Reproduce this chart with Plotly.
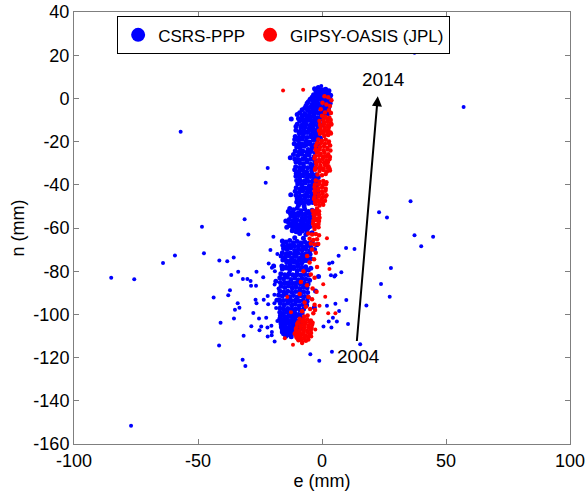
import plotly.graph_objects as go

# ---------------- data (mm) ----------------
# CSRS-PPP main band
csrs_band_e = [
    -3, -1.5, 0, 1.5, 2.8, -2.2, -0.5, 1, 2.3, 3.5, -4, -2.8, -1, 0.5, 2, 3.2, -5.5, -3.5, -2, -0.2, 1.2, 2.6,
    -6.5, -4.5, -3, -1.2, 0.8, 2.1, -8, -5.8, -4, -2.5, -0.8, 1.6, 3, -1.8, 0.4, 2.4, -3.8, 1.9,
    -10, -8, -6.5, -5, -3.5, -2, -0.5, -9, -7.2, -5.8, -4.2, -2.8, -1.2, -10.5, -8.5, -6.8, -5.2, -3.6, -1.8,
    -9.2, -7.5, -6, -4.5, -3, -1.5, -7.9, -4.9, -2.3,
    -11, -9.5, -8, -6.5, -5, -3.5, -2, -10.2, -8.8, -7.2, -5.6, -4, -2.5, -11.5, -9.8, -8.2, -6.8, -5.2, -3.2,
    -10.5, -9, -7.5, -6, -4.5, -2.8, -11, -9.2, -7.8, -6.2, -4.2, -8.6, -5.9, -3.9,
    -10.5, -9, -7.5, -6, -4.5, -3, -1.5, -9.8, -8.2, -6.8, -5.2, -3.8, -2.2, -10.8, -9.2, -7.8, -6.2, -4.8,
    -3.2, -1.8, -10, -8.5, -7, -5.5, -4, -2.5, -9.5, -7.2, -8.9, -6.4, -4.1,
    -13, -11.5, -10, -8.5, -7, -5.5, -4, -2.5, -12.5, -11, -9.5, -8, -6.5, -5, -3.5, -13.5, -12, -10.5, -9,
    -7.5, -6, -4.5, -11.8, -10.2, -8.8, -7.2, -5.8, -9.5, -12.2, -7.9, -10.9,
    -9, -6.5, -4, -11, -7.5,
    -16, -14.5, -13, -11.5, -10, -8.5, -7, -5.5, -4, -15.5, -14, -12.5, -11, -9.5, -8, -6.5, -5, -3, -16.5,
    -15, -13.5, -12, -10.5, -9, -7.5, -6, -4.5, -14.2, -12.8, -11.2, -9.8, -8.2, -13.3, -10.7, -7.2,
    -16, -14.5, -13, -11.5, -10, -8.5, -7, -5.5, -4.5, -17, -15.5, -14, -12.5, -11, -9.5, -8, -6.5, -5,
    -16.5, -15, -13.5, -12, -10.5, -9, -7.5, -6, -17.5, -16, -14.5, -13, -11.5, -10, -8.5, -7, -5.5,
    -16.8, -15.2, -13.8, -12.2, -10.8, -9.2, -7.8, -6.2, -17, -15.5, -14, -12.5, -11, -9.5, -8,
    -13.2, -10.2, -14.8, -11.8, -8.8, -12.8, -9.8, -15.8, -12.1,
    -17, -15.5, -14, -12.5, -11, -9.5, -8, -16.5, -15, -13.5, -12, -10.5, -9, -16, -14.5, -13, -11.5, -10,
    -15.5, -13, -14.2, -11.2,
    -12.4, -12.8, -12.6, -14.6, -1.2, 0.4, -13.6, -14.2, -0.6, -2.1, -19.5, -18.6, -1.4, -2.6, -18.2, -3.1,
]
csrs_band_n = [
    4.5, 5, 4, 4.2, 3.5, 2.5, 2.8, 2, 2.6, 1.5, 0.5, 1, 0.2, 0.6, -0.5, 0, -1.5, -1.2, -2, -1.8, -2.5, -2,
    -3.5, -3.8, -4, -3.3, -4.2, -3.6, -5.2, -5.5, -6, -5.8, -6.4, -5.5, -6.8, 1.2, 3.1, -1.0, -0.2, -4.9,
    -7.5, -8, -7.8, -8.5, -8.2, -9, -8.6, -10.5, -11, -10.2, -11.5, -10.8, -11.2, -13, -13.5, -13.2, -14,
    -13.6, -14.2, -16, -16.5, -15.8, -17, -16.4, -17.2, -9.4, -12.6, -15.1,
    -19, -19.5, -18.8, -19.8, -20.2, -19.4, -20, -22.5, -23, -22.2, -23.6, -22.8, -23.2, -26, -26.4, -25.8,
    -26.8, -26.2, -27, -29.5, -29.8, -30.2, -29.4, -30.5, -30, -33, -33.6, -33.2, -34, -33.5, -21.1, -24.9,
    -31.8,
    -36, -36.5, -35.8, -36.8, -36.2, -37, -36.6, -39.5, -40, -39.2, -40.5, -39.8, -40.2, -43, -43.5, -42.8,
    -43.8, -43.2, -44, -43.6, -46.5, -47, -46.2, -47.4, -46.8, -47.2, -49.5, -49.8, -38.1, -41.7, -45.2,
    -51, -51.5, -50.8, -52, -51.2, -52.4, -51.8, -52.2, -54.5, -55, -54.2, -55.4, -54.8, -55.2, -54.6, -57.5,
    -58, -57.2, -58.4, -57.8, -58.2, -57.6, -60, -60.5, -59.8, -60.6, -60.2, -61.5, -53.1, -56.4, -59.1,
    -62.5, -63, -62.2, -64.5, -64.8,
    -66, -66.5, -65.8, -66.8, -66.2, -67, -66.4, -67.2, -66.6, -69.5, -70, -69.2, -70.4, -69.8, -70.2, -69.6,
    -70.6, -69.9, -73, -73.5, -72.8, -73.8, -73.2, -74, -73.4, -73.7, -74.2, -76, -76.5, -75.8, -76.8, -76.2,
    -68.1, -71.6, -75.1,
    -79, -78.5, -79.5, -78.8, -79.8, -79.2, -80, -79.4, -78.6, -83, -83.5, -82.8, -83.8, -83.2, -84, -83.4,
    -83.7, -84.2, -87, -87.5, -86.8, -87.8, -87.2, -88, -87.4, -87.7, -91, -91.5, -90.8, -91.8, -91.2, -92,
    -91.4, -91.7, -92.2, -95, -95.5, -94.8, -95.8, -95.2, -96, -95.4, -95.7, -99, -99.5, -98.8, -99.8, -99.2,
    -100, -99.4, -81.2, -81.6, -85.3, -85.7, -89.4, -93.2, -93.6, -97.3, -97.6,
    -102, -102.5, -101.8, -102.8, -102.2, -103, -102.4, -104.5, -105, -104.2, -105.4, -104.8, -105.2, -107,
    -107.5, -106.8, -107.6, -107.2, -109, -109.5, -103.6, -106.1,
    -9.5, -27.5, -44.6, -56.8, -13.8, -6.2, -52.4, -59.6, -18.4, -67.8, -77.6, -84.6, -82.4, -89.2, -93.5, -96.8,
]
# CSRS-PPP band, in-between points
csrs_fill_e = [
    -2.5, -0.8, 0.9, 2.5,
    -3.4, -1.7, 0, 1.7, 3,
    -4.8, -3, -1.5, 0.2, 1.5, 3,
    -6, -4, -2.6, -0.8, 0.6, 2.2, 3.3,
    -7, -5.2, -3.5, -2, -0.2, 1.4, 2.7,
    -9, -7, -5, -3.2, -1.5, 0.5, 2.2,
    -9.5, -7.8, -6.2, -4.6, -3, -1.4, 0.2,
    -10, -8.2, -6.5, -4.8, -3.2, -1.6, 0,
    -10.5, -8.8, -7.2, -5.6, -4, -2.4, -0.8,
    -10.8, -9.2, -7.6, -6, -4.4, -2.8, -1.2,
    -11.2, -9.6, -8, -6.4, -4.8, -3.2, -1.6,
    -10.8, -9.2, -7.6, -6, -4.4, -2.8,
    -11, -9.4, -7.8, -6.2, -4.6, -3,
    -10.6, -9, -7.4, -5.8, -4.2, -2.6,
    -10.4, -8.8, -7.2, -5.6, -4, -2.4,
    -10.2, -8.6, -7, -5.4, -3.8, -2.2,
    -10.4, -8.8, -7.2, -5.6, -4, -2.4,
    -10.5, -8.8, -7.2, -5.6, -4, -2.5,
    -10.2, -8.6, -7, -5.4, -3.8,
    -12.8, -11.2, -9.6, -8, -6.4, -4.8, -3.2,
    -13.2, -11.6, -10, -8.4, -6.8, -5.2, -3.6,
    -13, -11.4, -9.8, -8.2, -6.6, -5,
    -12, -10.4, -8, -6,
    -15.8, -14.2, -12.6, -11, -9.4, -7.8, -6.2, -4.6,
    -16, -14.4, -12.8, -11.2, -9.6, -8, -6.4, -4.8,
    -15.8, -14.2, -12.6, -11, -9.4, -7.8, -6.2,
    -16.2, -14.6, -13, -11.4, -9.8, -8.2, -6.6,
    -16.6, -15, -13.4, -11.8, -10.2, -8.6, -7, -5.4,
    -16.8, -15.2, -13.6, -12, -10.4, -8.8, -7.2, -5.6,
    -17, -15.4, -13.8, -12.2, -10.6, -9, -7.4, -5.8,
    -17.2, -15.6, -14, -12.4, -10.8, -9.2, -7.6, -6,
    -17, -15.4, -13.8, -12.2, -10.6, -9, -7.4,
    -16.8, -15.2, -13.6, -12, -10.4, -8.8,
    -16.6, -15, -13.4, -11.8, -10.2, -8.6,
    -16.4, -14.8, -13.2, -11.6, -10, -8.6,
    -16, -14.4, -12.8, -11.2, -9.6,
    -14.6, -12.4,
]
csrs_fill_n = [
    3.6, 3.2, 3.9, 3.0,
    1.7, 1.3, 1.8, 1.2, 0.9,
    -0.4, -0.8, -0.3, -0.9, -0.6, -1.1,
    -2.3, -2.8, -2.5, -2.9, -2.4, -2.8, -2.2,
    -4.6, -4.3, -4.9, -4.5, -4.8, -4.4, -4.2,
    -6.6, -7.0, -6.8, -7.2, -6.9, -7.3, -7.1,
    -9.3, -9.8, -9.5, -9.9, -9.6, -10.0, -9.7,
    -12.0, -12.4, -12.1, -12.5, -12.2, -12.6, -12.3,
    -14.8, -15.2, -14.9, -15.3, -15.0, -15.4, -15.1,
    -17.6, -18.0, -17.7, -18.1, -17.8, -18.2, -17.9,
    -21.0, -21.4, -21.1, -21.5, -21.2, -21.6, -21.3,
    -24.4, -24.8, -24.5, -24.9, -24.6, -25.0,
    -28.0, -28.4, -28.1, -28.5, -28.2, -28.6,
    -31.6, -32.0, -31.7, -32.1, -31.8, -32.2,
    -34.8, -35.2, -34.9, -35.3, -35.0, -35.4,
    -38.0, -38.4, -38.1, -38.5, -38.2, -38.6,
    -41.4, -41.8, -41.5, -41.9, -41.6, -42.0,
    -44.8, -45.2, -44.9, -45.3, -45.0, -45.4,
    -48.0, -48.4, -48.1, -48.5, -48.2,
    -53.0, -53.4, -53.1, -53.5, -53.2, -53.6, -53.3,
    -56.1, -56.5, -56.2, -56.6, -56.3, -56.7, -56.4,
    -58.8, -59.2, -58.9, -59.3, -59.0, -59.4,
    -61.3, -61.7, -61.4, -61.8,
    -68.0, -68.4, -68.1, -68.5, -68.2, -68.6, -68.3, -68.7,
    -71.5, -71.9, -71.6, -72.0, -71.7, -72.1, -71.8, -72.2,
    -74.8, -75.2, -74.9, -75.3, -75.0, -75.4, -75.1,
    -77.6, -78.0, -77.7, -78.1, -77.8, -78.2, -77.9,
    -81.2, -81.6, -81.3, -81.7, -81.4, -81.8, -81.5, -81.9,
    -85.2, -85.6, -85.3, -85.7, -85.4, -85.8, -85.5, -85.9,
    -89.2, -89.6, -89.3, -89.7, -89.4, -89.8, -89.5, -89.9,
    -93.2, -93.6, -93.3, -93.7, -93.4, -93.8, -93.5, -93.9,
    -97.2, -97.6, -97.3, -97.7, -97.4, -97.8, -97.5,
    -100.6, -101.0, -100.7, -101.1, -100.8, -101.2,
    -103.4, -103.8, -103.5, -103.9, -103.6, -104.0,
    -105.8, -106.2, -105.9, -106.3, -106.0, -106.4,
    -108.2, -108.6, -108.3, -108.7, -108.4,
    -110.1, -110.4,
]

# CSRS-PPP scattered points
csrs_out_e = [
    -85, -75.7, -64.1, -59.3, -57, -47.6, -48.4, -41.4, -38.2, -35.6, -31.2, -29.7, -21.9, -22.7, -19.6,
    -20.8, -21.5, -20.2, -33.8, -26.4, -36.6, -23.7, -31.9, -30.1, -28.8, -19.1, -28.6, -26.6, -37.1, -37.8,
    -43.7, -26.8, -23.5, -26.4, -34, -33.3, -35.1, -21.9, -19.2, -21.7, -19.2, -27.7, -25.4, -22.5, -35.5,
    -40.9, -28.5, -25.2, -22, -20.4, -24.5, -20.2, -21.9, -20.3, -31.6, -19.1, -41.5, -32, -30.9, -4.7, -1.1,
    4, 15.4, -77, -18, -19, -18.5, -18, -17.5,
    37.3, 57.1, 35.7, 23, 26.2, 37.3, 44.8, 40, 9.7, 13.1, 6.7, 4.2, 2.9, 27.8, 7.8, 3.6, 5.4, 5, 23.8, 27.3,
    9.8, 5.4, 6.9, 2, 17.9, 4.4, 2.7, 6, 10.5, 0.6, 3.8, -0.3,
]
csrs_out_n = [
    -83, -83.7, -76.2, -72.7, -15.4, -71.7, -59.4, -75, -75.4, -73.6, -56, -63, -32.2, -39.1, -64,
    -70.2, -76.4, -78.4, -80.2, -80.2, -81.8, -82.8, -83.6, -83.6, -84.5, -86.2, -86.7, -86.7, -88.8, -91.1,
    -92.2, -93.2, -93.2, -94.8, -94.8, -96.9, -97.8, -91.5, -90.9, -95.3, -94.8, -99.3, -101.9, -101.6, -101.9,
    -103.9, -105.5, -107.3, -106.1, -105.3, -105.6, -108.1, -110.2, -109.6, -109.9, -112.5, -114.4, -121,
    -123.9, -118.4, -121.5, -117.3, -113.8, -151.5, -72, -80, -97, -103, -88,
    21.1, -4, -47.6, -52.7, -55.1, -63.4, -64, -68.5, -69.3, -69.7, -72.8, -76, -76.4, -78.5, -80.5, -81.9,
    -81.9, -82.5, -85.9, -91.8, -93.3, -95.1, -98.4, -96, -95.9, -101.5, -103.3, -103.3, -104.4, -105.6,
    -106.1, 5.7,
]

# GIPSY-OASIS (JPL) band
gipsy_band_e = [
    1, 2.5, 3.8, 0.2, 1.8, 3.2, -0.5, 2.8, 1.2, 3.6,
    0, 1.5, 3, -1, 0.8, 2.2, 3.6, -0.5, 1.2, 2.8, -1.2, 0.4, 2, 3.4, 0.9, 2.5,
    -1.5, 0, 1.5, 2.8, -2.5, -0.8, 0.8, 2.2, 3.3, -2, -0.5, 1, 2.5, -3, -1.2, 0.3, 1.8, 3, -2.2, -0.6, 1.2,
    2.6, -2.8, -1, 0.6, 2, 3.2, -1.8, 0, 1.5, -1.6, 0.9, 2.1, -0.2,
    -2.5, -1, 0.5, 1.8, -3, -1.5, 0, 1.5, -2.8, -1.2, 0.3, 1.8, -3.2, -1.8, -0.3, 1.2, -2.5, -1, 0.5, -2,
    -3.8, -2.5, -1.2, -3.2, -2, -1, -3.6, -2.4, -1.4, -3,
    -5.5, -4, -2.5, -1.2, -5, -3.5, -2, -4.5, -3, -1.5,
    -4, -2.5, -6, -3.2, -5, -2, -7.5, -4.5, -3, -8.5, -6, -3.8, -2.2, -9, -5.5, -4, -7, -3, -6.5, -4.8, -8,
    -3.5, -5.8, -2.8, -7.2,
    -9, -7.5, -6, -4.5, -10, -8.5, -7, -5.5, -4, -10.5, -9, -7.5, -6, -4.5, -11, -9.5, -8, -6.5, -5, -10,
    -8.5, -7, -5.5, -8, -6.8, -9.3,
]
gipsy_band_n = [
    1, 0.5, -0.8, -2, -2.8, -3.5, -5, -5.5, -6.5, -6.8,
    -8, -8.6, -9, -10.5, -11, -10.8, -11.5, -13, -13.6, -13.2, -15, -15.5, -15.2, -15.8, -17.4, -17,
    -19, -19.6, -19.2, -20, -22, -22.5, -22.2, -22.8, -21.8, -25, -25.6, -25.2, -25.8, -27.8, -28.4, -28,
    -28.6, -28.2, -30.6, -31.2, -30.8, -31.4, -33, -33.6, -33.2, -33.8, -33.4, -35.2, -35.6, -35, -24, -27,
    -29.8, -32.4,
    -38, -38.6, -38.2, -38.8, -41, -41.6, -41.2, -41.8, -44, -44.6, -44.2, -44.8, -46.6, -47.2, -46.8, -47.4,
    -49, -49.6, -49.2, -51,
    -52, -52.6, -52.2, -55, -55.6, -55.2, -58, -58.6, -58.2, -60.5,
    -62.5, -63, -62.8, -63.4, -65, -65.6, -65.2, -67.2, -67.6, -67.4,
    -70, -71.5, -73, -74.5, -76, -78, -80, -81.5, -83, -85, -86.5, -88, -89.5, -90.5, -92, -93, -94.5,
    -95.5, -96.5, -97.5, -98.5, -99.5, -100.5, -98, -101,
    -102, -102.6, -102.2, -102.8, -104.5, -105, -104.6, -105.2, -104.8, -106.8, -107.4, -107, -107.6, -107.2,
    -109, -109.6, -109.2, -109.8, -109.4, -111, -111.5, -111.2, -111.6, -112.8, -103.7, -108.3,
]
# GIPSY-OASIS band, in-between points
gipsy_fill_e = [
    0.6, 2.2, 3.5,
    -0.8, 0.8, 2.4, 3.8,
    -0.6, 1, 2.6,
    -0.8, 0.6, 2.2, 3.6,
    -2, -0.4, 1.2, 2.7,
    -2.6, -1, 0.6, 2.2, 3.4,
    -2.8, -1.2, 0.4, 2, 3.2,
    -2.4, -0.8, 0.8, 2.4,
    -2.6, -1, 0.6, 2.2, 3,
    -2.8, -1.2, 0.4, 1.6,
    -3, -1.5, 0, 1.4,
    -3, -1.4, 0.2, 1.4,
    -2.8, -1.2, 0.2,
    -3.4, -2.2, -1.2,
    -3.5, -2.3, -1.2,
    -3.2, -2, -1.4,
    -9.6, -8, -6.5, -5, -3.8,
    -10.2, -8.6, -7, -5.4, -4.2,
    -10.6, -9, -7.4, -5.8, -4.4,
    -10.4, -8.8, -7.2, -5.6,
    -9.5, -6.5,
]
gipsy_fill_n = [
    -9.8, -9.6, -10.0,
    -12.2, -12.0, -12.4, -12.1,
    -14.4, -14.2, -14.6,
    -16.4, -16.2, -16.6, -16.3,
    -20.8, -20.6, -21.0, -20.7,
    -23.8, -23.6, -24.0, -23.7, -24.1,
    -26.8, -26.6, -27.0, -26.7, -27.1,
    -29.6, -29.4, -29.8, -29.5,
    -32.2, -32.0, -32.4, -32.1, -32.5,
    -39.9, -39.7, -40.1, -39.8,
    -42.9, -42.7, -43.1, -42.8,
    -45.6, -45.4, -45.8, -45.5,
    -48.2, -48.0, -48.4,
    -53.6, -53.4, -53.8,
    -56.6, -56.4, -56.8,
    -59.4, -59.2, -59.6,
    -103.6, -103.4, -103.8, -103.5, -103.9,
    -106.0, -105.8, -106.2, -105.9, -106.3,
    -108.3, -108.1, -108.5, -108.2, -108.6,
    -110.4, -110.2, -110.6, -110.3,
    -112.0, -112.2,
]

# GIPSY-OASIS scattered points
gipsy_out_e = [-15.7, -7.6, 2, 1.3, 2.5, 5.4, -2.7, -15, -11.7, -8, -4.3, 0.5, 3, -1, -12.5, -14]
gipsy_out_n = [3.7, 4, -64.8, -91.8, -99.5, -99.5, -107, -111, -114, -113.3, -110.2, -86, -79, -96, -99, -92]

series_names = ["CSRS-PPP", "GIPSY-OASIS (JPL)"]
series_colors = ["#0000FF", "#FF0000"]

# arrow (time direction) and its labels
arrow_start = (14, -113)
arrow_end = (22.5, 1)
label_start = "2004"
label_end = "2014"

x_ticks = [-100, -50, 0, 50, 100]
y_ticks = [-160, -140, -120, -100, -80, -60, -40, -20, 0, 20, 40]

# ---------------- figure ----------------
FONT = "Liberation Sans, Arial, sans-serif"
fig = go.Figure()

fig.add_trace(go.Scatter(x=csrs_out_e, y=csrs_out_n, mode="markers", showlegend=False,
                         marker=dict(color=series_colors[0], size=4)))
fig.add_trace(go.Scatter(x=csrs_band_e + csrs_fill_e, y=csrs_band_n + csrs_fill_n, mode="markers",
                         showlegend=False, marker=dict(color=series_colors[0], size=5)))
fig.add_trace(go.Scatter(x=gipsy_band_e + gipsy_fill_e, y=gipsy_band_n + gipsy_fill_n, mode="markers",
                         showlegend=False, marker=dict(color=series_colors[1], size=4.5)))
fig.add_trace(go.Scatter(x=gipsy_out_e, y=gipsy_out_n, mode="markers", showlegend=False,
                         marker=dict(color=series_colors[1], size=4)))

# legend entries
for nm, col in zip(series_names, series_colors):
    fig.add_trace(go.Scatter(x=[None], y=[None], mode="markers", name=nm,
                             marker=dict(color=col, size=14)))

axis_common = dict(
    showgrid=False, zeroline=False, showline=True, linecolor="#7f7f7f", linewidth=1,
    mirror="ticks", ticks="inside", ticklen=5, tickcolor="#7f7f7f", automargin=False,
    tickfont=dict(family=FONT, size=18, color="#000"),
)
fig.update_xaxes(range=[-100, 100], tickvals=x_ticks, ticktext=[str(v) for v in x_ticks],
                 title=dict(text="e (mm)", font=dict(family=FONT, size=18, color="#000"), standoff=0),
                 **axis_common)
fig.update_yaxes(range=[-160, 40], tickvals=y_ticks, ticktext=[str(v) for v in y_ticks],
                 title=dict(text="n (mm)", font=dict(family=FONT, size=18, color="#000"), standoff=4),
                 **axis_common)

fig.add_annotation(x=arrow_end[0], y=arrow_end[1], ax=arrow_start[0], ay=arrow_start[1],
                   xref="x", yref="y", axref="x", ayref="y", text="", showarrow=True,
                   arrowhead=2, arrowsize=1, arrowwidth=2, arrowcolor="#000")
fig.add_annotation(x=24.8, y=8.6, xref="x", yref="y", text=label_end, showarrow=False,
                   font=dict(family=FONT, size=19, color="#000"))
fig.add_annotation(x=14.6, y=-119.3, xref="x", yref="y", text=label_start, showarrow=False,
                   font=dict(family=FONT, size=19, color="#000"))

fig.update_layout(
    width=587, height=491,
    margin=dict(l=74, r=17, t=12, b=47),
    paper_bgcolor="white", plot_bgcolor="white",
    legend=dict(orientation="h", x=0.087, y=0.99, xanchor="left", yanchor="top",
                bgcolor="white", bordercolor="#000", borderwidth=1,
                font=dict(family=FONT, size=17, color="#000"), itemwidth=30),
)

fig.write_html("out.html")
